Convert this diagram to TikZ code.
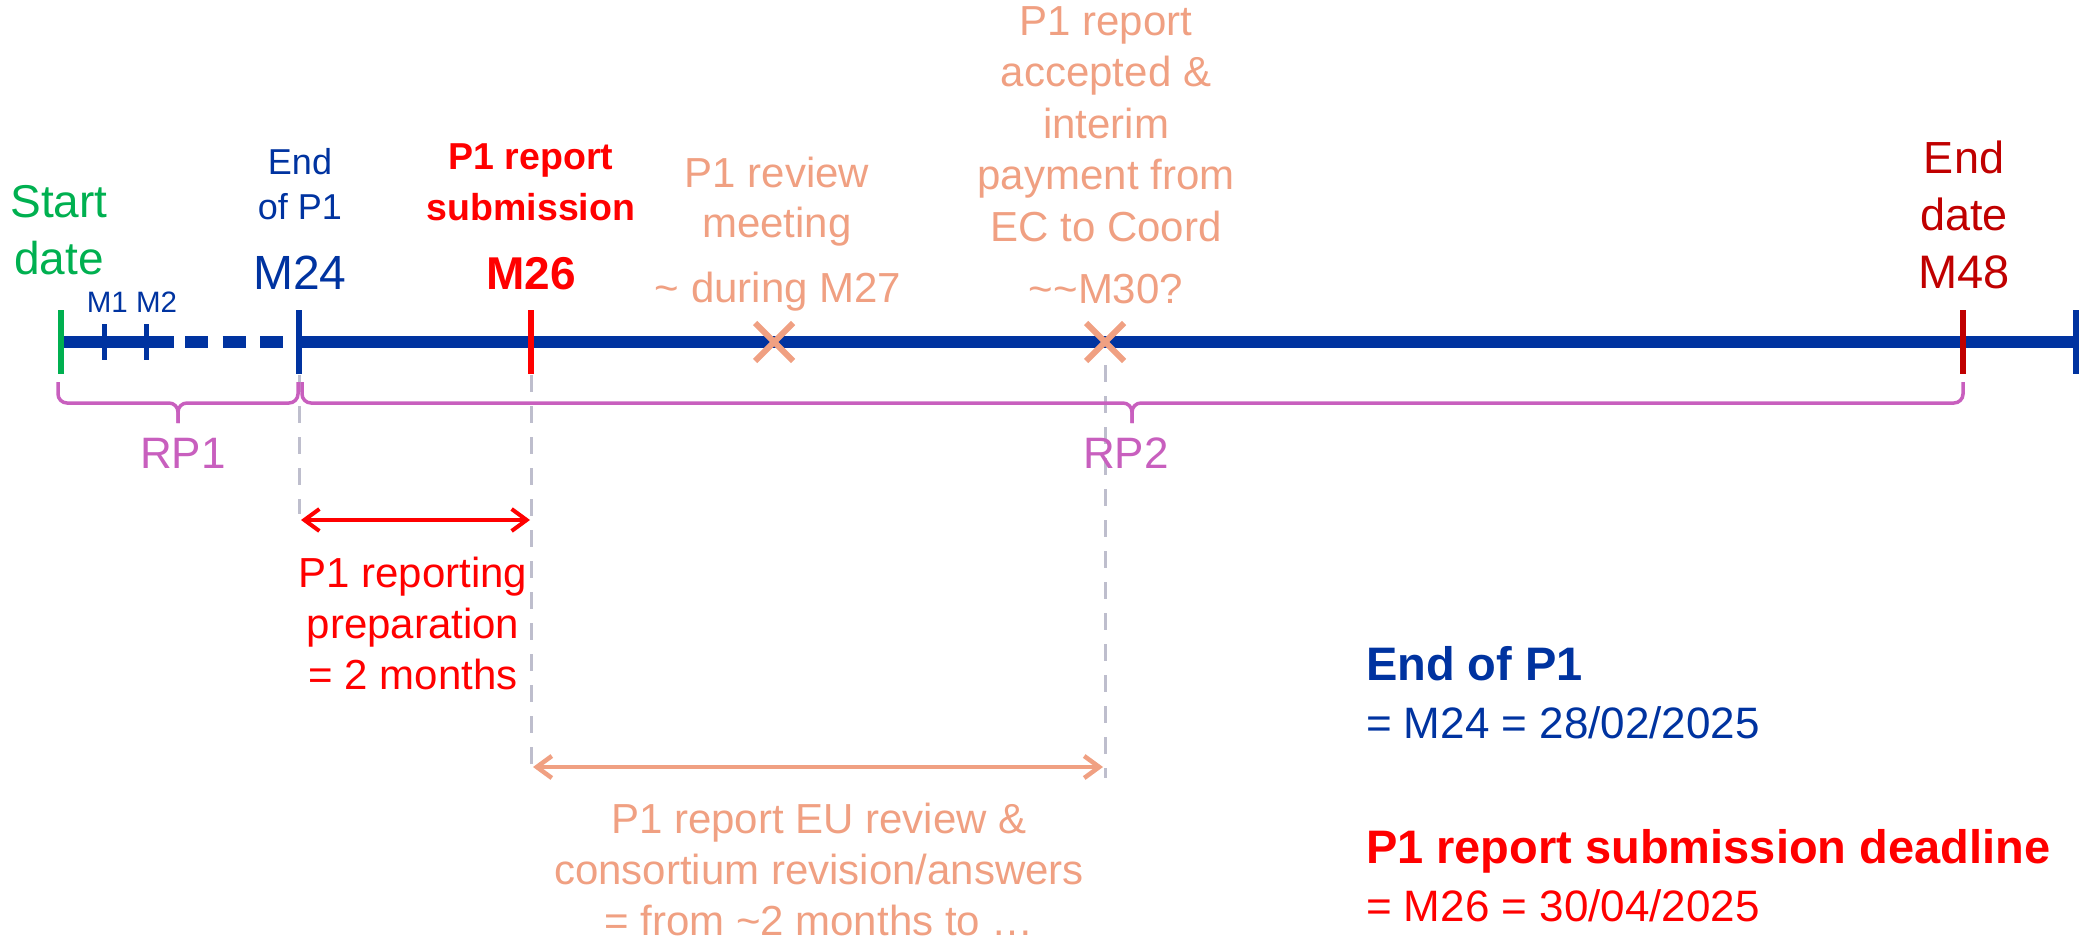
\documentclass[tikz,border=0pt]{standalone}
\usepackage{fontspec}
\setmainfont{Liberation Sans}
\usetikzlibrary{arrows.meta}
\newcommand\fsz[2]{\fontsize{#1}{#2}\selectfont}
\definecolor{tblue}{RGB}{0,51,160}
\definecolor{tgreen}{RGB}{0,176,80}
\definecolor{tred}{RGB}{255,0,0}
\definecolor{tdred}{RGB}{192,0,0}
\definecolor{tsalmon}{RGB}{240,160,130}
\definecolor{tmag}{RGB}{200,95,190}
\definecolor{tgrey}{RGB}{190,190,205}
\begin{document}
\begin{tikzpicture}[x=1pt,y=-1pt,
  tl/.style={line width=12pt, tblue},
  tick/.style={line width=6pt},
  stick/.style={line width=5pt, tblue},
  xmark/.style={line width=6pt, tsalmon},
  gdash/.style={line width=3pt, tgrey, dash pattern=on 17pt off 14pt},
  bracestyle/.style={line width=3.5pt, tmag, rounded corners=9pt},
  barrow/.style={line width=4pt, {Straight Barb[length=15pt,width=22pt]}-{Straight Barb[length=15pt,width=22pt]}},
  lbl/.style={inner sep=0pt, outer sep=0pt, align=center, anchor=base},
  lblw/.style={inner sep=0pt, outer sep=0pt, anchor=base west}]
\useasboundingbox (0,0) rectangle (2082,944);
% timeline coordinates
\coordinate (s) at (61,342);
\coordinate (m1) at (104,342);
\coordinate (m2) at (146,342);
\coordinate (d0) at (174,342);
\coordinate (da) at (185,342);
\coordinate (db) at (283,342);
\coordinate (m24) at (299,342);
\coordinate (m26) at (531,342);
\coordinate (x27) at (774,342);
\coordinate (x30) at (1105,342);
\coordinate (m48) at (1963,342);
\coordinate (e) at (2076,342);
% timeline
\draw[tl] (s) -- (d0);
\draw[tl, dash pattern=on 23pt off 14.5pt] (da) -- (db);
\draw[tl] (m24) -- (e);
% ticks
\draw[stick] ([yshift=18pt]m1) -- ([yshift=-18pt]m1);
\draw[stick] ([yshift=18pt]m2) -- ([yshift=-18pt]m2);
\draw[tick, tgreen] ([yshift=32pt]s) -- ([yshift=-32pt]s);
\draw[tick, tblue] ([yshift=32pt]m24) -- ([yshift=-32pt]m24);
\draw[tick, tred] ([yshift=32pt]m26) -- ([yshift=-32pt]m26);
\draw[tick, tdred] ([yshift=32pt]m48) -- ([yshift=-32pt]m48);
\draw[tick, tblue] ([yshift=32pt]e) -- ([yshift=-32pt]e);
% crosses
\draw[xmark] ([shift={(-19,-19)}]x27) -- ([shift={(19,19)}]x27);
\draw[xmark] ([shift={(-19,19)}]x27) -- ([shift={(19,-19)}]x27);
\draw[xmark] ([shift={(-19,-19)}]x30) -- ([shift={(19,19)}]x30);
\draw[xmark] ([shift={(-19,19)}]x30) -- ([shift={(19,-19)}]x30);
% grey dashed guides
\coordinate (m24b) at (299,514);
\coordinate (m26b) at (531,772);
\coordinate (x30b) at (1105,778);
\draw[gdash] ([yshift=-33pt]m24) -- (m24b);
\draw[gdash] ([yshift=-33pt]m26) -- (m26b);
\draw[gdash] ([yshift=-23pt]x30) -- (x30b);
% braces
\draw[bracestyle] (58,382) -- (58,403) -- (178,403) -- (178,423);
\draw[bracestyle] (298,382) -- (298,403) -- (178,403) -- (178,423);
\draw[bracestyle] (302,382) -- (302,403) -- (1132,403) -- (1132,423);
\draw[bracestyle] (1963,382) -- (1963,403) -- (1132,403) -- (1132,423);
% arrows
\coordinate (ra) at (301,520);
\coordinate (rb) at (530,520);
\coordinate (sa) at (533,767);
\coordinate (sb) at (1103,767);
\draw[barrow, tred] (ra) -- (rb);
\draw[barrow, tsalmon, line width=4.5pt] (sa) -- (sb);
% labels on timeline (base = baseline of last line)
\node[lbl, tgreen, font=\fsz{46}{57}] (start) at (59,274) {Start\\date};
\node[lbl, tblue, font=\fsz{36}{44}] (eop1) at (300,219) {End\\of P1};
\node[lbl, tblue, font=\fsz{48}{58}] (m24l) at (300,289) {M24};
\node[lbl, tblue, font=\fsz{29.5}{36}] (m12l) at (132,312) {M1 M2};
\node[lbl, tred, font=\fsz{37.5}{51}\bfseries] (subm) at (531,220) {P1 report\\submission};
\node[lbl, tred, font=\fsz{46}{58}\bfseries] (m26l) at (531,289) {M26};
\node[lbl, tsalmon, font=\fsz{42}{50}] (revm) at (777,237) {P1 review\\meeting};
\node[lbl, tsalmon, font=\fsz{42}{50}] (durm27) at (778,302) {\textasciitilde{} during M27};
\node[lbl, tsalmon, font=\fsz{42}{51.5}] (acc) at (1106,241) {P1 report\\accepted \&\\interim\\payment from\\EC to Coord};
\node[lbl, tsalmon, font=\fsz{42}{50}] (m30l) at (1106,303) {\textasciitilde\textasciitilde M30?};
\node[lbl, tdred, font=\fsz{45}{57}] (enddate) at (1964,230) {End\\date};
\node[lbl, tdred, font=\fsz{47}{57}] (m48l) at (1964,288) {M48};
\node[lbl, tmag, font=\fsz{44}{52}] (rp1) at (183,468) {RP1};
\node[lbl, tmag, font=\fsz{44}{52}] (rp2) at (1126,468) {RP2};
% under-timeline labels
\node[lbl, tred, font=\fsz{42}{51}] (prep) at (413,689) {P1 reporting\\preparation\\= 2 months};
\node[lbl, tsalmon, font=\fsz{42}{51}] (eurev) at (819,935) {P1 report EU review \&\\consortium revision/answers\\= from \textasciitilde2 months to \dots};
% summary
\node[lblw, tblue, font=\fsz{47}{56}\bfseries] (sumA) at (1366,680) {End of P1};
\node[lblw, tblue, font=\fsz{44}{56}] (sumB) at (1366,738) {= M24 = 28/02/2025};
\node[lblw, tred, font=\fsz{47}{56}\bfseries] (sumC) at (1366,863) {P1 report submission deadline};
\node[lblw, tred, font=\fsz{44}{56}] (sumD) at (1366,921) {= M26 = 30/04/2025};
\end{tikzpicture}
\end{document}
